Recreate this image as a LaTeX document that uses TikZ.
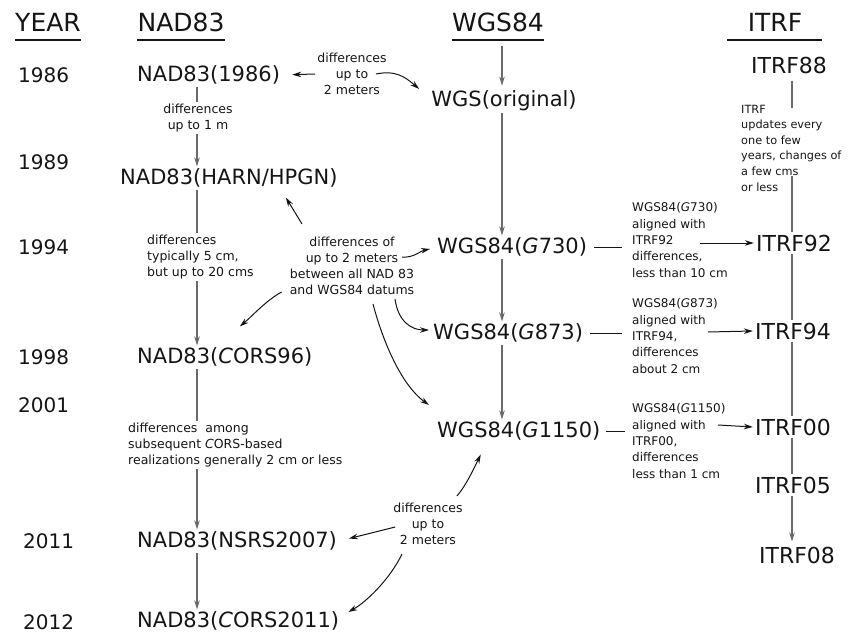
\documentclass[tikz,border=0pt]{standalone}
\usepackage{fontspec}
\setmainfont{DejaVu Sans}
\usetikzlibrary{arrows.meta, positioning, calc}
\definecolor{lngray}{HTML}{6A6A6A}
\definecolor{inkblk}{HTML}{151515}

\begin{document}
\begin{tikzpicture}[x=1pt, y=-1pt, >={Stealth[length=9pt, width=5.5pt]},
  hdr/.style={text=inkblk, font=\fontsize{25}{28}\selectfont, inner sep=0pt},
  yr/.style={text=inkblk, font=\fontsize{20}{24}\selectfont, anchor=west, inner sep=1pt},
  datum/.style={text=inkblk, font=\fontsize{21}{24}\selectfont, inner sep=2pt},
  itrfbox/.style={datum, font=\fontsize{22}{24}\selectfont},
  note/.style={text=inkblk, font=\fontsize{12.5}{16}\selectfont, align=center, inner sep=2pt},
  lnote/.style={note, align=left},
  rnote/.style={lnote, font=\fontsize{12}{16.3}\selectfont, anchor=west},
  tline/.style={lngray, line width=1.3pt},
  carrow/.style={->, inkblk, line width=1pt}]

\useasboundingbox (0,0) rectangle (861,636);

% Column headings
\node[hdr] (hyear) at (48,22) {YEAR};
\node[hdr] (hnad) at (181,22) {NAD83};
\node[hdr] (hwgs) at (498,22) {WGS84};
\node[hdr] (hitrf) at (775,22) {ITRF};
\foreach \h in {hyear, hnad, hwgs}
  \draw[inkblk, line width=2.5pt] (\h.west |- 0,40) -- (\h.east |- 0,40);
\draw[inkblk, line width=2.5pt] (727,40) -- (822,40);

% Years
\foreach \yr/\xx/\yy in {1986/17/75, 1989/17/162, 1994/17/247, 1998/17/357,
    2001/17/405, 2011/22/541, 2012/22/622}
  \node[yr] (y\yr) at (\xx,\yy) {\yr};

% NAD83 column
\node[datum, anchor=west] (n86) at (135,75) {NAD83(1986)};
\node[datum, anchor=west] (harn) at (118,178) {NAD83(HARN/HPGN)};
\node[datum, anchor=west] (cors96) at (135,357) {NAD83(\textit{C}ORS96)};
\node[datum, anchor=west] (nsrs) at (135,541) {NAD83(NSRS2007)};
\node[datum, anchor=west] (cors11) at (135,621) {NAD83(\textit{C}ORS2011)};

\node[note] (d1m) at (198,118) {differences\\up to 1 m};
\node[lnote, anchor=west] (d5cm) at (145,257) {differences\\typically 5 cm,\\but up to 20 cms};
\node[lnote, anchor=west] (dcors) at (126,445)
  {differences\ \ among\\subsequent \textit{C}ORS-based\\realizations generally 2 cm or less};

\coordinate (ncol) at (197,0);
\draw[tline] (ncol |- n86.south) -- (ncol |- d1m.north);
\draw[tline, ->] (ncol |- d1m.south) -- (ncol |- harn.north);
\draw[tline] (ncol |- harn.south) -- (ncol |- d5cm.north);
\draw[tline, ->] (ncol |- d5cm.south) -- (ncol |- cors96.north);
\draw[tline] (ncol |- cors96.south) -- (ncol |- dcors.north);
\draw[tline, ->] (ncol |- dcors.south) -- (ncol |- nsrs.north);
\draw[tline, ->] (ncol |- nsrs.south) -- (ncol |- cors11.north);

% WGS84 column
\node[datum] (worig) at (504,101) {WGS(original)};
\node[datum, anchor=west] (g730) at (435,247) {WGS84(\textit{G}730)};
\node[datum, anchor=west] (g873) at (431,333) {WGS84(\textit{G}873)};
\node[datum, anchor=west] (g1150) at (435,431) {WGS84(\textit{G}1150)};

\coordinate (wcol) at (502,0);
\draw[tline, ->, shorten <=14pt, shorten >=3pt] (wcol |- hwgs.south) -- (wcol |- worig.north);
\draw[tline, ->] (wcol |- worig.south) -- (wcol |- g730.north);
\draw[tline, ->] (wcol |- g730.south) -- (wcol |- g873.north);
\draw[tline, ->] (wcol |- g873.south) -- (wcol |- g1150.north);

% ITRF column
\node[itrfbox] (i88) at (789,65) {ITRF88};
\node[itrfbox] (i92) at (794,243) {ITRF92};
\node[itrfbox] (i94) at (793,331) {ITRF94};
\node[itrfbox] (i00) at (793,427) {ITRF00};
\node[itrfbox] (i05) at (793,485) {ITRF05};
\node[itrfbox] (i08) at (797,555) {ITRF08};

\node[lnote, font=\fontsize{11.3}{15.6}\selectfont, anchor=west] (iupd) at (739,148)
  {ITRF\\updates every\\one to few\\years, changes of\\a few cms\\or less};

\coordinate (icol) at (792,0);
\coordinate (iu1) at (792,108);
\coordinate (iu2) at (792,176);
\draw[tline, shorten <=5pt] (icol |- i88.south) -- (iu1);
\draw[tline] (iu2) -- (icol |- i92.north);
\draw[tline] (icol |- i92.south) -- (icol |- i94.north);
\draw[tline] (icol |- i94.south) -- (icol |- i00.north);
\draw[tline] (icol |- i00.south) -- (icol |- i05.north);
\draw[tline, ->, shorten >=3pt] (icol |- i05.south) -- (icol |- i08.north);

% WGS84 to ITRF alignment
\node[rnote] (a730) at (630,240)
  {WGS84(\textit{G}730)\\aligned with\\ITRF92\\differences,\\less than 10 cm};
\node[rnote] (a873) at (630,336)
  {WGS84(\textit{G}873)\\aligned with\\ITRF94,\\differences\\about 2 cm};
\node[rnote] (a1150) at (630,441)
  {WGS84(\textit{G}1150)\\aligned with\\ITRF00,\\differences\\less than 1 cm};

\draw[inkblk, line width=1pt, shorten <=5pt, shorten >=8pt] (g730.east) -- (g730.east -| a730.west);
\draw[inkblk, line width=1pt, shorten <=5pt, shorten >=8pt] (g873.east) -- (g873.east -| a873.west);
\draw[inkblk, line width=1pt, shorten <=3pt, shorten >=5pt] (g1150.east) -- (g1150.east -| a1150.west);
\draw[carrow] ($(a730.west)+(70,3)$) -- (i92.west);
\draw[carrow] ($(a873.west)+(78,-4)$) -- (i94.west);
\draw[carrow] ($(a1150.west)+(88,-16)$) -- (i00.west);

% NAD83 / WGS84 differences
\node[note] (d2m) at (352,74) {differences\\up to\\2 meters};
\draw[carrow, shorten >=10pt] (d2m.west) -- (n86.east);
\draw[carrow] ($(d2m.center)+(24,0)$) .. controls +(20,-4) and +(-14,-12) .. ($(worig.west)+(-10,-12)$);

\node[note] (d2mall) at (352,266)
  {differences of\\up to 2 meters\\between all NAD 83\\and WGS84 datums};
\draw[carrow] ($(d2mall.north)+(-50,-11)$) -- ($(harn.south)+(57,8)$);
\draw[carrow] ($(d2mall.center)+(50,-9)$) .. controls +(12,1) and +(-10,2) .. ($(g730.west)+(-5,2)$);
\draw[carrow] ($(d2mall.south west)+(-6,-5)$) .. controls +(-15,8) and +(12,-10) .. ($(cors96.north)+(15,-19)$);
\draw[carrow] ($(d2mall.south)+(43,2)$) .. controls +(3,22) and +(-18,0) .. ($(g873.west)+(-2,-3)$);
\draw[carrow] ($(d2mall.south)+(21,7)$) .. controls +(12,45) and +(-25,-18) .. ($(g1150.west)+(-6,-26)$);

\node[note] (d2mlow) at (428,524) {differences\\up to\\2 meters};
\draw[carrow] ($(d2mlow.north)+(29,-5)$) .. controls +(10,-12) and +(-6,12) .. ($(g1150.south)+(-38,12)$);
\draw[carrow, shorten >=10pt] ($(d2mlow.west)+(4,3)$) -- (nsrs.east);
\draw[carrow] ($(d2mlow.south)+(-26,7)$) .. controls +(-12,25) and +(18,-10) .. ($(cors11.east)+(7,-9)$);

\end{tikzpicture}
\end{document}
